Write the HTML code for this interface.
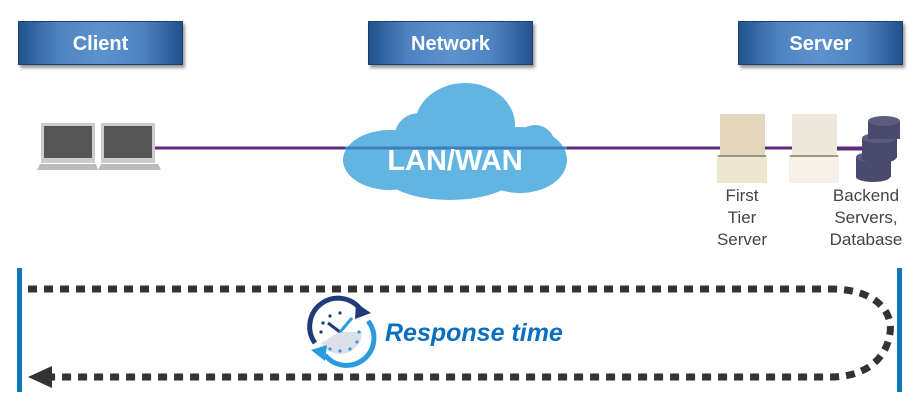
<!DOCTYPE html>
<html><head><style>
body{margin:0;width:920px;height:416px;background:#fff;position:relative;overflow:hidden;font-family:"Liberation Sans",sans-serif}
.h{position:absolute;top:21px;width:165px;height:44px;background:linear-gradient(90deg,#23528c,#4f84c2 25%,#5d92cf 50%,#4f84c2 75%,#23528c);border:1px solid #1e3f6b;box-shadow:2px 3px 3px #999;color:#fff;font-weight:bold;font-size:20px;text-align:center;line-height:44px;box-sizing:border-box}
.l{position:absolute;color:#444;font-size:17px;text-align:center;line-height:22px}
</style></head><body>
<div class="h" style="left:18px">Client</div>
<div class="h" style="left:368px">Network</div>
<div class="h" style="left:738px">Server</div>
<svg width="920" height="416" style="position:absolute;left:0;top:0">
<line x1="155" y1="148" x2="870" y2="148" stroke="#5e2a7a" stroke-width="3"/>
<g fill="#62b5e0">
<ellipse cx="390" cy="160" rx="47" ry="30"/><ellipse cx="420" cy="135" rx="25" ry="22"/>
<ellipse cx="465" cy="125" rx="50" ry="42"/><ellipse cx="520" cy="160" rx="47" ry="33"/>
<ellipse cx="450" cy="170" rx="70" ry="30"/><ellipse cx="535" cy="145" rx="20" ry="20"/>
</g>
<line x1="345" y1="148" x2="567" y2="148" stroke="#3d7fbf" stroke-width="3"/>
<text x="455" y="170" font-size="29" font-weight="bold" fill="#fff" text-anchor="middle" font-family="Liberation Sans">LAN/WAN</text>
<g><rect x="41" y="123" width="54" height="40" fill="#ccc"/><rect x="44" y="126" width="48" height="32" fill="#555"/>
<polygon points="37,170 98,170 96,164 40,164" fill="#bbb"/>
<rect x="101" y="123" width="54" height="40" fill="#ccc"/><rect x="104" y="126" width="48" height="32" fill="#555"/>
<polygon points="98,170 161,170 158,164 101,164" fill="#bbb"/></g>
<rect x="720" y="114" width="45" height="66" fill="#e2d6bc"/><rect x="717" y="155" width="50" height="28" fill="#efe6cf"/><line x1="718" y1="156" x2="766" y2="156" stroke="#998" stroke-width="2"/>
<rect x="792" y="114" width="45" height="66" fill="#ede7dc"/><rect x="789" y="155" width="50" height="28" fill="#f5f1e8"/><line x1="790" y1="156" x2="838" y2="156" stroke="#998" stroke-width="2"/>
<line x1="767" y1="148" x2="792" y2="148" stroke="#5e2a7a" stroke-width="3"/>
<line x1="837" y1="149" x2="870" y2="149" stroke="#5e2a7a" stroke-width="3"/>
<g fill="#4a4a6e"><rect x="856" y="157" width="35" height="20"/><ellipse cx="873" cy="177" rx="17" ry="5"/><ellipse cx="873" cy="157" rx="17" ry="5" fill="#5c5c80"/>
<rect x="862" y="138" width="35" height="20"/><ellipse cx="879" cy="158" rx="17" ry="5"/><ellipse cx="879" cy="138" rx="17" ry="5" fill="#5c5c80"/>
<rect x="868" y="121" width="32" height="18"/><ellipse cx="884" cy="121" rx="16" ry="5" fill="#5c5c80"/></g>
<rect x="17" y="268" width="5" height="124" fill="#0e78b8"/>
<rect x="897" y="268" width="5" height="124" fill="#0e78b8"/>
<path d="M28,289 H830 C880,289 893,315 890,333 C887,355 870,377 830,377 H50" fill="none" stroke="#333" stroke-width="7" stroke-dasharray="9,7"/>
<polygon points="28,377 52,366 52,388" fill="#333"/>
<circle cx="340" cy="332" r="23" fill="#fff"/>
<path d="M340,332 L362,332 A22,22 0 0 1 321,343 Z" fill="#dde0ea"/>
<g fill="#1f3c7a"><circle cx="340" cy="313" r="1.6"/><circle cx="330" cy="316" r="1.6"/><circle cx="323" cy="323" r="1.6"/><circle cx="321" cy="332" r="1.6"/></g>
<g fill="#2b9be0"><circle cx="359" cy="332" r="1.6"/><circle cx="357" cy="342" r="1.6"/><circle cx="350" cy="349" r="1.6"/><circle cx="340" cy="351" r="1.6"/><circle cx="330" cy="349" r="1.6"/></g>
<path d="M315,343 A27,27 0 0 1 361,310" fill="none" stroke="#1f3c7a" stroke-width="5"/>
<path d="M368,321 A27,27 0 0 1 325,355" fill="none" stroke="#2b9be0" stroke-width="5"/>
<polygon points="356,303 371,313 355,319" fill="#1f3c7a"/>
<polygon points="311,350 327,345 325,361" fill="#2b9be0"/>
<line x1="340" y1="332" x2="328" y2="323" stroke="#1f3c7a" stroke-width="3"/>
<line x1="340" y1="332" x2="352" y2="318" stroke="#2b9be0" stroke-width="3"/>
<text x="385" y="341" font-size="25" font-weight="bold" font-style="italic" fill="#0a6fc0" font-family="Liberation Sans">Response time</text>
</svg>
<div class="l" style="left:702px;top:185px;width:80px">First<br>Tier<br>Server</div>
<div class="l" style="left:818px;top:185px;width:96px">Backend<br>Servers,<br>Database</div>
</body></html>
